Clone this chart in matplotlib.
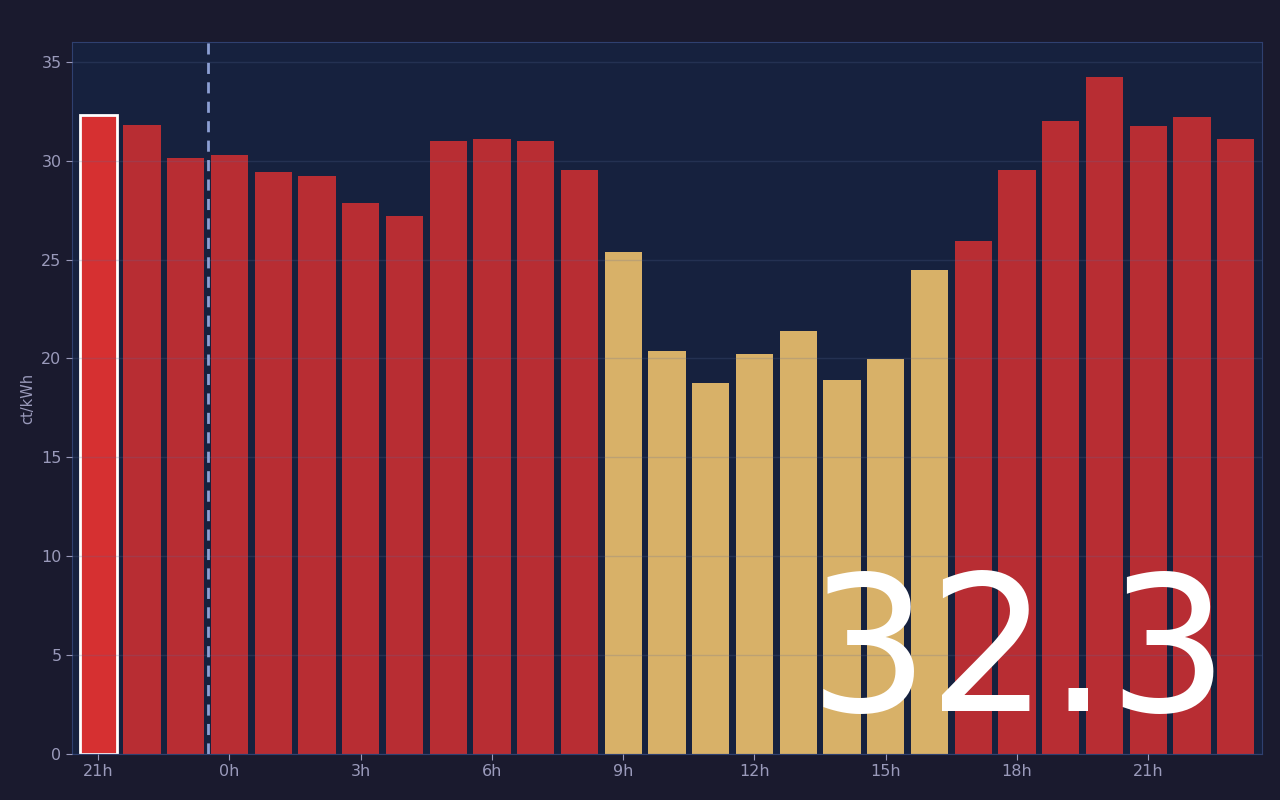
import matplotlib.pyplot as plt

hours = [21, 22, 23] + list(range(24))
prices = [32.3, 31.8, 30.15, 30.3, 29.45, 29.25, 27.85, 27.2, 31.0, 31.1, 31.0, 29.55,
          25.4, 20.4, 18.75, 20.2, 21.4, 18.9, 19.95, 24.45, 25.95, 29.55, 32.0, 34.25,
          31.75, 32.2, 31.1]
cheap = [False] * 12 + [True] * 8 + [False] * 7
current = 0
tick_pos = list(range(0, 27, 3))
tick_labels = [str(hours[i]) + 'h' for i in tick_pos]

fig = plt.figure(figsize=(12.8, 8), dpi=100, facecolor='#1a1a2e')
ax = fig.add_axes([72 / 1280, 46 / 800, 1190 / 1280, 712 / 800])
ax.set_facecolor('#16213e')

colors = []
for i in range(len(prices)):
    if i == current:
        colors.append('#d63031')
    elif cheap[i]:
        colors.append('#d8b168')
    else:
        colors.append('#b82d33')

bars = ax.bar(range(len(prices)), prices, width=0.85, color=colors, zorder=2)
bars[current].set_edgecolor('white')
bars[current].set_linewidth(2)

ax.axvline(2.5, color='#8c9fd4', linestyle=(0, (4, 3)), linewidth=2, zorder=3)

ax.set_xlim(-0.6, 26.6)
ax.set_ylim(0, 36)
ax.set_xticks(tick_pos)
ax.set_xticklabels(tick_labels)
ax.set_yticks(range(0, 36, 5))
ax.grid(axis='y', color='#5a6c9c', alpha=0.22, linewidth=1, zorder=4)
ax.set_axisbelow(False)
ax.tick_params(colors='#9a9abb', labelsize=11.5, length=4)
for s in ax.spines.values():
    s.set_color('#2f4070')
ax.set_ylabel('ct/kWh', color='#9a9abb', fontsize=10.5, labelpad=4)

ax.text(0.972, 0.060, '32.3', transform=ax.transAxes, ha='right', va='baseline',
        fontsize=136, color='white', zorder=5)

plt.savefig('out.png', dpi=100, facecolor=fig.get_facecolor())
